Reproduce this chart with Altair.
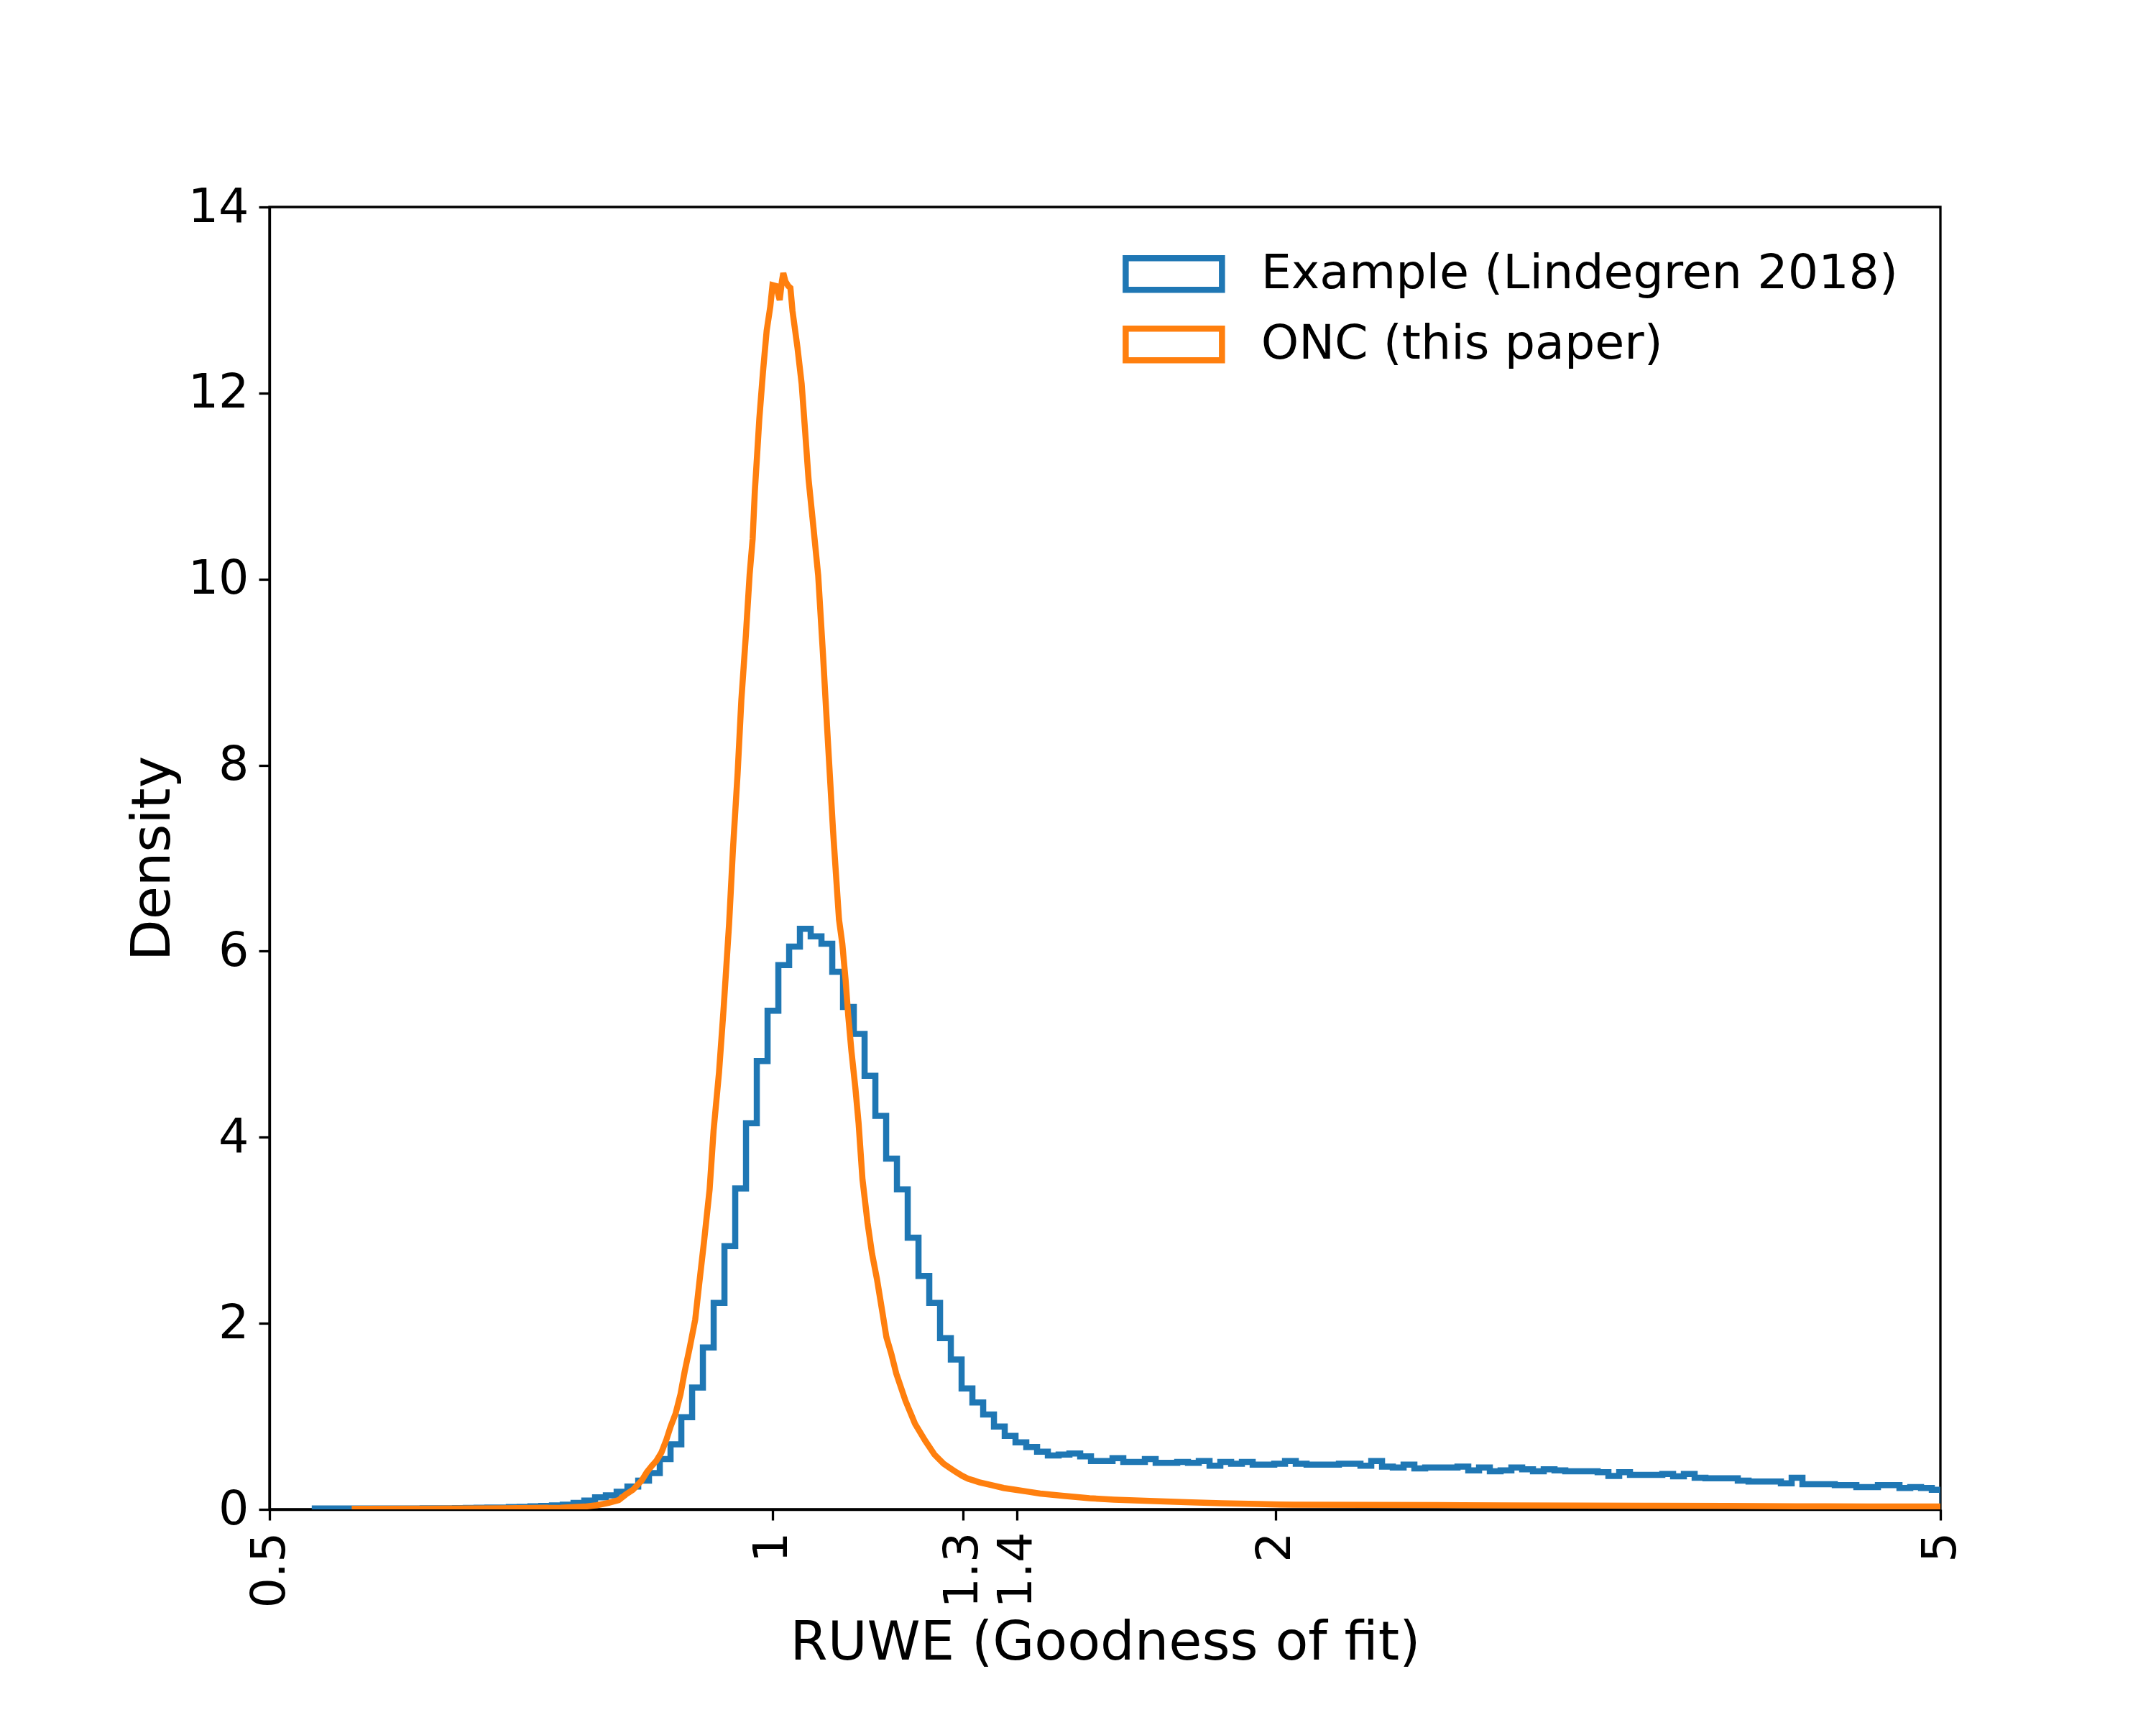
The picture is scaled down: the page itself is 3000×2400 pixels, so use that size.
import altair as alt
import numpy as np
import pandas as pd

# ---- data ----
SERIES = ["Example (Lindegren 2018)", "ONC (this paper)"]
COLORS = ["#1f77b4", "#ff7f0e"]

# Blue histogram: log-spaced bins (1/155 decade wide); bin index 0 starts at RUWE 0.9786
BLUE_EDGE0 = 0.9786
BLUE_BIN_DEX = 1.0 / 155.0
BLUE_K0 = -41
BLUE_VALUES = [
    0.01, 0.01, 0.01, 0.01, 0.01, 0.01, 0.01, 0.01, 0.01, 0.01,
    0.012, 0.012, 0.012, 0.014, 0.015, 0.017, 0.02, 0.02, 0.025, 0.028,
    0.032, 0.036, 0.042, 0.05, 0.07, 0.094, 0.13, 0.15, 0.19, 0.245,
    0.31, 0.39, 0.54, 0.70, 0.99, 1.31, 1.74, 2.22, 2.83, 3.45,
    4.15, 4.82, 5.36, 5.85, 6.05, 6.24, 6.16, 6.08, 5.78, 5.40,
    5.11, 4.66, 4.23, 3.77, 3.44, 2.92, 2.51, 2.22, 1.84, 1.61,
    1.30, 1.15, 1.02, 0.89, 0.79, 0.72, 0.67, 0.62, 0.58, 0.59,
    0.60, 0.57, 0.52, 0.52, 0.55, 0.51, 0.51, 0.54, 0.50, 0.50,
    0.51, 0.50, 0.52, 0.47, 0.51, 0.49, 0.51, 0.48, 0.48, 0.49,
    0.52, 0.49, 0.48, 0.48, 0.48, 0.49, 0.49, 0.47, 0.52, 0.46,
    0.45, 0.48, 0.44, 0.45, 0.45, 0.45, 0.46, 0.42, 0.45, 0.41,
    0.42, 0.45, 0.43, 0.41, 0.43, 0.42, 0.41, 0.41, 0.41, 0.40,
    0.36, 0.40, 0.37, 0.37, 0.37, 0.38, 0.355, 0.38, 0.34, 0.335,
    0.335, 0.335, 0.31, 0.30, 0.30, 0.30, 0.28, 0.34, 0.27, 0.27,
    0.27, 0.26, 0.26, 0.24, 0.24, 0.26, 0.26, 0.23, 0.24, 0.23,
    0.21,
]

# Orange (fine-binned) curve, read as RUWE / density pairs
ORANGE_X = [
    0.560, 0.625, 0.690, 0.747, 0.772, 0.785, 0.798, 0.809, 0.817, 0.825,
    0.830, 0.835, 0.841, 0.847, 0.852, 0.858, 0.864, 0.869, 0.875, 0.881,
    0.886, 0.892, 0.899, 0.904, 0.910, 0.917, 0.922, 0.929, 0.935, 0.942,
    0.947, 0.953, 0.958, 0.964, 0.969, 0.973, 0.976, 0.979, 0.982, 0.987,
    0.992, 0.997, 1.000, 1.005, 1.010, 1.013, 1.015, 1.018, 1.022, 1.025,
    1.028, 1.035, 1.041, 1.046, 1.051, 1.058, 1.065, 1.072, 1.079, 1.087,
    1.096, 1.101, 1.106, 1.110, 1.115, 1.121, 1.126, 1.132, 1.140, 1.147,
    1.155, 1.163, 1.170, 1.178, 1.186, 1.201, 1.217, 1.234, 1.250, 1.266,
    1.278, 1.288, 1.299, 1.309, 1.320, 1.330, 1.353, 1.375, 1.398, 1.422,
    1.446, 1.494, 1.548, 1.601, 1.682, 1.768, 1.857, 1.952, 2.051, 2.264,
    2.500, 2.760, 3.048, 3.365, 3.715, 4.102, 4.529, 5.000,
]
ORANGE_Y = [
    0.005, 0.007, 0.011, 0.018, 0.03, 0.045, 0.07, 0.10, 0.16, 0.21,
    0.26, 0.31, 0.40, 0.47, 0.52, 0.61, 0.75, 0.89, 1.03, 1.24,
    1.48, 1.73, 2.04, 2.43, 2.88, 3.44, 4.07, 4.70, 5.40, 6.30,
    7.10, 7.90, 8.70, 9.40, 10.05, 10.43, 10.95, 11.33, 11.72, 12.23,
    12.67, 12.93, 13.16, 13.15, 13.00, 13.20, 13.29, 13.20, 13.15, 13.13,
    12.88, 12.49, 12.10, 11.59, 11.07, 10.56, 10.04, 9.20, 8.30, 7.30,
    6.34, 6.08, 5.69, 5.31, 4.92, 4.53, 4.15, 3.55, 3.08, 2.75,
    2.47, 2.14, 1.85, 1.67, 1.46, 1.17, 0.92, 0.74, 0.59, 0.49,
    0.44, 0.40, 0.36, 0.33, 0.31, 0.29, 0.26, 0.23, 0.21, 0.19,
    0.17, 0.145, 0.12, 0.105, 0.09, 0.077, 0.065, 0.057, 0.050, 0.048,
    0.046, 0.043, 0.041, 0.039, 0.036, 0.033, 0.031, 0.030,
]

X_TICKS = [0.5, 1, 1.3, 1.4, 2, 5]
Y_TICKS = [0, 2, 4, 6, 8, 10, 12, 14]

# ---- build step outline for the blue histogram ----
edges = BLUE_EDGE0 * 10 ** ((np.arange(len(BLUE_VALUES) + 1) + BLUE_K0) * BLUE_BIN_DEX)
bx = [edges[0]]
by = [0.0]
for i, v in enumerate(BLUE_VALUES):
    bx += [edges[i], edges[i + 1]]
    by += [v, v]
bx.append(edges[-1])
by.append(0.0)

blue = pd.DataFrame({"x": bx, "y": by, "order": range(len(bx)), "series": SERIES[0]})
orange = pd.DataFrame({"x": ORANGE_X, "y": ORANGE_Y, "order": range(len(ORANGE_X)), "series": SERIES[1]})
df = pd.concat([blue, orange], ignore_index=True)

FONT = "DejaVu Sans"
LW = 8.5

chart = alt.Chart(df).mark_line(
    clip=True, strokeWidth=LW, strokeJoin="miter", strokeCap="butt"
).encode(
    x=alt.X(
        "x:Q",
        scale=alt.Scale(type="log", domain=[0.5, 5], nice=False),
        axis=alt.Axis(
            values=X_TICKS, format="~g", labelAngle=-90, labelOverlap=False,
            labelFlush=False, labelBound=False, grid=False,
            tickSize=15, tickWidth=3.3, tickColor="black",
            domainColor="black", domainWidth=3.3,
            labelFontSize=66.7, labelColor="black", labelPadding=16, labelFont=FONT,
            title="RUWE (Goodness of fit)", titleFontSize=75, titleFontWeight="normal",
            titleColor="black", titleFont=FONT, titleX=1162.5, titleY=185,
            titleBaseline="middle", titleAlign="center",
        ),
    ),
    y=alt.Y(
        "y:Q",
        scale=alt.Scale(domain=[0, 14], nice=False),
        axis=alt.Axis(
            values=Y_TICKS, format="d", grid=False,
            tickSize=15, tickWidth=3.3, tickColor="black",
            domainColor="black", domainWidth=3.3,
            labelFontSize=66.7, labelColor="black", labelPadding=14, labelFont=FONT,
            title="Density", titleFontSize=75, titleFontWeight="normal",
            titleColor="black", titleFont=FONT, titleX=-163, titleY=906,
            titleBaseline="middle", titleAlign="center", titleAngle=-90,
        ),
    ),
    color=alt.Color(
        "series:N",
        scale=alt.Scale(domain=SERIES, range=COLORS),
        legend=alt.Legend(
            title=None, orient="none", legendX=1225, legendY=60,
            direction="vertical", padding=0, offset=0, rowPadding=19,
            labelOffset=88, symbolOffset=0,
            symbolType="M-3.045,-1H3.045V1H-3.045Z", symbolSize=1936,
            symbolStrokeWidth=LW, symbolFillColor="transparent",
            labelFontSize=66.7, labelColor="black", labelFont=FONT, labelLimit=0,
        ),
    ),
    order=alt.Order("order:Q"),
).properties(
    width=2325, height=1812,
    padding={"left": 367, "top": 280, "right": 292, "bottom": 292},
    autosize=alt.AutoSizeParams(type="none"),
).configure(
    background="white", font=FONT,
    view=alt.ViewConfig(stroke="black", strokeWidth=3.3),
)

chart.save("out.html", embed_options={"renderer": "svg", "actions": False})
